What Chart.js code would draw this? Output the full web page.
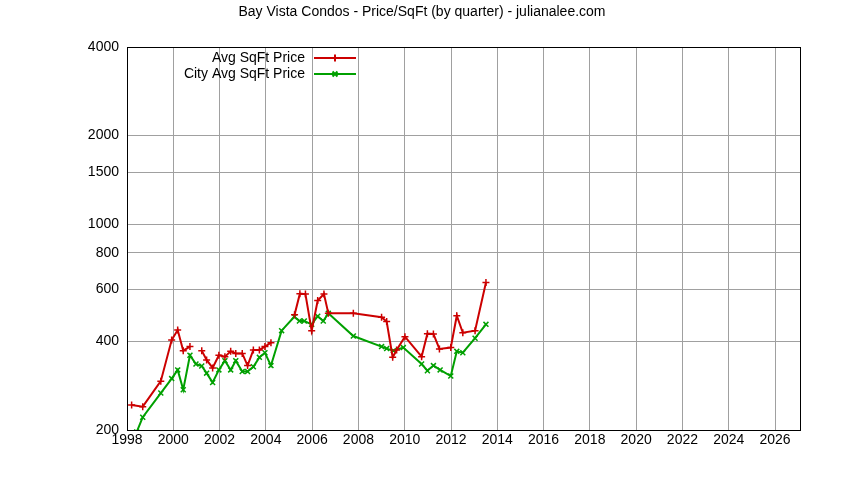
<!DOCTYPE html>
<html><head><meta charset="utf-8">
<script src="https://cdn.jsdelivr.net/npm/chart.js@4"></script>
<style>html,body{margin:0;padding:0;background:#fff}</style>
</head><body>
<div style="width:844px;height:480px"><canvas id="c"></canvas></div>
<script>
const titleText = "Bay Vista Condos - Price/SqFt (by quarter) - julianalee.com";
const labelA = "Avg SqFt Price";
const labelB = "City Avg SqFt Price";
const yTicks = [200,400,600,800,1000,1500,2000,4000];
const redX = [1998.2,1998.68,1999.46,1999.93,2000.19,2000.43,2000.72,2000.95,2001.23,2001.44,2001.70,2001.97,2002.23,2002.48,2002.70,2002.98,2003.21,2003.46,2003.72,2003.96,2004.22,2004.7,2005.24,2005.47,2005.71,2005.98,2006.24,2006.51,2006.70,2007.78,2009.0,2009.22,2009.48,2009.65,2010.01,2010.73,2010.98,2011.24,2011.50,2011.99,2012.25,2012.51,2013.04,2013.51];
const redY = [243,240,293,404,437,372,384,null,372,346,325,359,355,370,364,364,331,374,374,384,396,null,493,581,579,435,551,579,498,498,483,467,353,374,415,355,425,424,377,381,489,428,435,634];
const greenX = [1998.42,1998.68,1999.46,1999.93,2000.19,2000.43,2000.72,2000.98,2001.23,2001.44,2001.70,2001.97,2002.23,2002.48,2002.70,2002.98,2003.21,2003.46,2003.72,2003.96,2004.22,2004.68,2005.23,2005.45,2005.66,2005.98,2006.24,2006.48,2006.70,2007.78,2009.0,2009.22,2009.51,2009.94,2010.73,2010.98,2011.24,2011.53,2011.99,2012.25,2012.51,2013.04,2013.51];
const greenY = [197,221,267,299,320,274,359,335,330,312,290,320,344,320,344,316,316,328,353,366,331,435,485,469,469,457,487,469,498,417,384,378,372,381,335,318,331,320,305,370,366,410,457];
const pts = (xs, ys) => xs.map((x,i)=>({x, y: ys[i]}));
const FONT = "'Liberation Sans', Arial, sans-serif";
const legendPlugin = {
  id:'gl',
  afterDraw(chart){
    const ctx = chart.ctx;
    ctx.save();
    ctx.fillStyle='#000'; ctx.font='14px '+FONT; ctx.textAlign='center'; ctx.textBaseline='middle';
    ctx.fillText(titleText, 422, 12);
    ctx.textAlign='right';
    chart.data.datasets.forEach((ds,i)=>{
      const y = 58 + i*16;
      ctx.fillStyle='#000';
      ctx.fillText(ds.label, 305, y);
      ctx.strokeStyle=ds.borderColor; ctx.lineWidth=2;
      ctx.beginPath(); ctx.moveTo(314,y); ctx.lineTo(356,y); ctx.stroke();
      ctx.fillStyle=ds.borderColor;
      Chart.helpers.drawPoint(ctx,{pointStyle:ds.pointStyle,radius:3.5,borderWidth:1.5},335,y);
    });
    ctx.restore();
  }
};
new Chart(document.getElementById('c'), {
  type:'line',
  data:{datasets:[
    {label:labelA, data:pts(redX,redY), borderColor:'#cc0000', backgroundColor:'#cc0000', pointStyle:'cross', pointRadius:3.5, pointBorderWidth:1.5, borderWidth:2, spanGaps:false, tension:0},
    {label:labelB, data:pts(greenX,greenY), borderColor:'#00a000', backgroundColor:'#00a000', pointStyle:'crossRot', pointRadius:3.5, pointBorderWidth:1.5, borderWidth:2, spanGaps:false, tension:0}
  ]},
  options:{
    responsive:true, maintainAspectRatio:false, animation:false,
    layout:{padding:{top:47,right:44,left:0,bottom:0}},
    plugins:{legend:{display:false},tooltip:{enabled:false}},
    scales:{
      x:{type:'linear',min:1998,max:2027.08,
        afterBuildTicks(s){s.ticks=[];for(let v=1998;v<=2026;v+=2)s.ticks.push({value:v});},
        afterFit(s){s.height=50;},
        ticks:{color:'#000',font:{family:FONT,size:14},maxRotation:0,padding:2,callback:v=>String(v)},
        grid:{color:'#a0a0a0',drawTicks:false,tickLength:0},
        border:{display:true,color:'#000',width:1}
      },
      y:{type:'logarithmic',min:200,max:4000,
        afterBuildTicks(s){s.ticks=yTicks.map(v=>({value:v}));},
        afterFit(s){s.width=127;},
        ticks:{color:'#000',font:{family:FONT,size:14},padding:8,callback:v=>String(v)},
        grid:{color:'#a0a0a0',drawTicks:false},
        border:{display:true,color:'#000',width:1}
      }
    }
  },
  plugins:[legendPlugin,{
    id:'dash',
    beforeDraw(chart){
      for(const k of ['x','y']){chart.scales[k].options.grid.borderDash=[2,3];}
      const a=chart.chartArea,ctx=chart.ctx;
    },
    afterDatasetsDraw(chart){
      const a=chart.chartArea,ctx=chart.ctx;ctx.save();ctx.strokeStyle='#000';ctx.lineWidth=1;
      ctx.strokeRect(a.left+0.5,a.top+0.5,a.right-a.left,a.bottom-a.top);ctx.restore();
    }
  }]
});
</script>
</body></html>
